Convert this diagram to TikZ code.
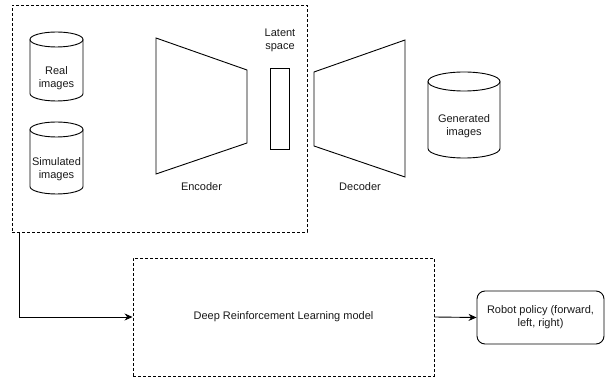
\documentclass[tikz,border=0pt]{standalone}
\usepackage{fontspec}
\setmainfont{Liberation Sans}
\usetikzlibrary{arrows.meta}
\begin{document}
\begin{tikzpicture}[x=1pt,y=-1pt,
  every node/.style={font=\fontsize{11}{13}\selectfont, text=black!90, inner sep=0pt},
  ln/.style={line width=0.9pt, draw=black},
  dbox/.style={draw=black, line width=0.9pt, dash pattern=on 3pt off 2pt, rectangle},
  arr/.style={line width=0.9pt, -{Stealth[length=8pt,width=7pt]}},
  lbl/.style={align=center},
]
\useasboundingbox (0,0) rectangle (605,379);
% outer dashed box
\node[dbox, minimum width=295pt, minimum height=227pt] (outer) at (159.5,118.5) {};
% cylinders
\newcommand\mycyl[5]{% x1, x2, ytop, ybot, ry
  \pgfmathsetmacro\cx{(#1+#2)/2}\pgfmathsetmacro\rx{(#2-#1)/2}
  \draw[ln] (\cx,#3+#5) ellipse [x radius=\rx pt, y radius=#5pt];
  \draw[ln] (#1,#3+#5) -- (#1,#4-#5) arc[start angle=180, end angle=360, x radius=\rx pt, y radius=#5pt] -- (#2,#3+#5);
}
\mycyl{30}{83}{32}{101}{7.5}
\node[lbl] (real) at (56.5,78.5) {Real\\images};
\mycyl{30}{83}{122}{194}{7.5}
\node[lbl] (sim) at (56.5,169.5) {Simulated\\images};
\mycyl{428}{500}{72}{158}{9.5}
\node[lbl] (gen) at (464,126) {Generated\\images};
% encoder / decoder
\draw[ln] (156,38) -- (247,70) -- (247,143) -- (156,174) -- cycle;
\node (enc) at (201.5,186.5) {Encoder};
\draw[ln] (314,72) -- (405,40) -- (405,177) -- (314,146) -- cycle;
\node (dec) at (360,186.5) {Decoder};
% latent
\node[draw=black, line width=0.9pt, minimum width=19pt, minimum height=81pt] (lat) at (279.5,108.5) {};
\node[lbl] (latlbl) at (280,40.5) {Latent\\space};
% DRL
\node[dbox, minimum width=301pt, minimum height=118pt] (drl) at (283.5,317) {Deep Reinforcement Learning model};
% robot
\node[draw=black, line width=0.9pt, rounded corners=8pt, minimum width=127pt, minimum height=53pt, align=center] (rob) at (540.5,317.5) {Robot policy (forward,\\left, right)};
% arrows
\draw[arr] ([xshift=8pt]outer.south west) |- (drl.west);
\draw[arr] (drl.east) -- (rob.west);
\end{tikzpicture}
\end{document}
